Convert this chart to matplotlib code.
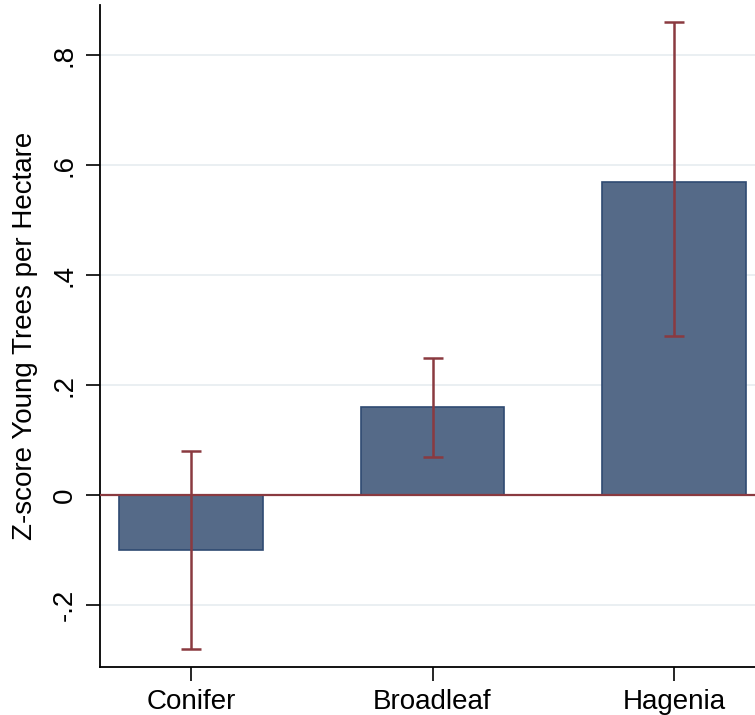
import matplotlib
matplotlib.use("Agg")
import matplotlib.pyplot as plt

# data
groups = ["Conifer", "Broadleaf", "Hagenia"]
means = [-0.10, 0.16, 0.57]
ci_low = [-0.28, 0.07, 0.29]
ci_high = [0.08, 0.25, 0.86]
yticks = [-0.2, 0.0, 0.2, 0.4, 0.6, 0.8]
ytick_labels = ["-.2", "0", ".2", ".4", ".6", ".8"]

plt.rcParams['font.family'] = ['Liberation Sans', 'DejaVu Sans']

fig = plt.figure(figsize=(7.55, 7.15), dpi=100)
# axes runs slightly off the right edge, like the cropped original
ax = fig.add_axes([100 / 755, (715 - 667) / 715, 665 / 755, 662 / 715])

xpos = [1, 2, 3]
bar_col = "#556a88"
edge_col = "#2f4a72"
err_col = "#8a3a40"

ax.bar(xpos, means, width=0.595, color=bar_col, edgecolor=edge_col, linewidth=1.2, zorder=2)
ax.axhline(0, color=err_col, linewidth=1.6, zorder=3)

lo = [m - l for m, l in zip(means, ci_low)]
hi = [h - m for m, h in zip(means, ci_high)]
ax.errorbar(xpos, means, yerr=[lo, hi], fmt="none", ecolor=err_col,
            elinewidth=1.8, capsize=7, capthick=1.8, zorder=4)

ax.set_xlim(0.623, 3.377)
ax.set_ylim(-0.3127, 0.891)
ax.set_yticks(yticks)
ax.set_yticklabels(ytick_labels, rotation=90, va="center", fontsize=20)
ax.set_xticks(xpos)
ax.set_xticklabels(groups, fontsize=20)
ax.set_ylabel("Z-score Young Trees per Hectare", fontsize=20, labelpad=10)

ax.grid(axis="y", color="#e6ecf0", linewidth=1.2, zorder=0)
ax.set_axisbelow(True)
ax.spines["top"].set_visible(False)
ax.spines["right"].set_visible(False)
ax.spines["left"].set_linewidth(1.3)
ax.spines["bottom"].set_linewidth(1.3)
ax.tick_params(axis="both", length=10, width=1.2, pad=6)

fig.savefig("out.png", dpi=100)
